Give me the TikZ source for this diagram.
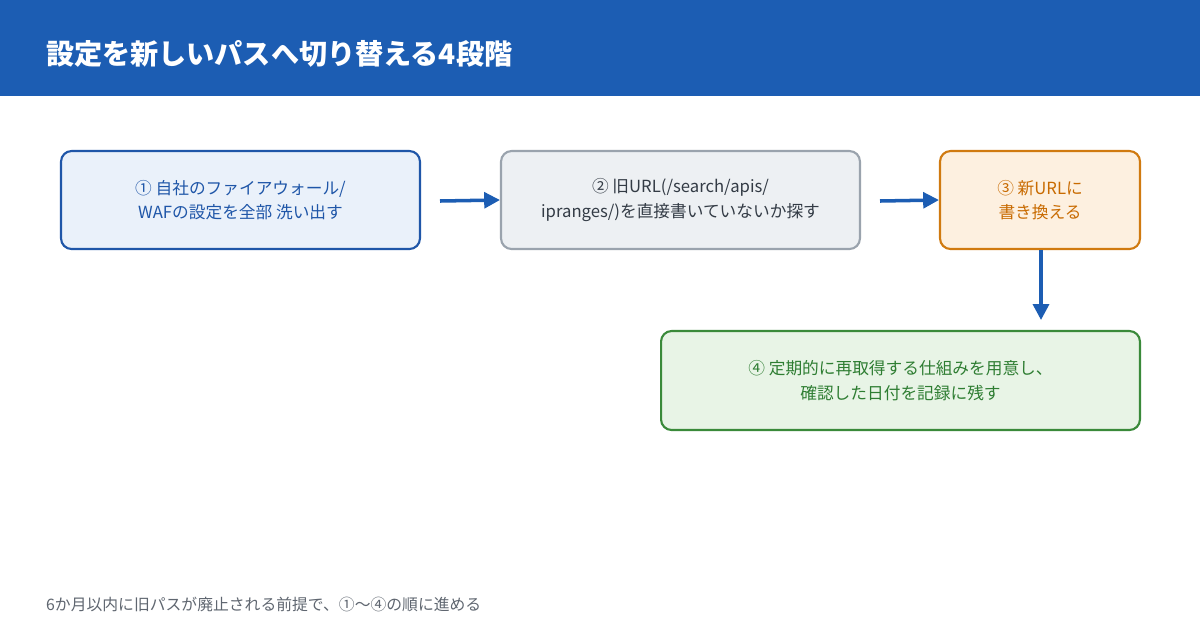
\documentclass[tikz,border=0pt]{standalone}
\usepackage{fontspec}
\setmainfont{Noto Sans CJK JP}
\usetikzlibrary{arrows.meta}
\definecolor{hdrblue}{HTML}{1C5DB3}
\definecolor{bluefill}{HTML}{EAF1FA}
\definecolor{bluetxt}{HTML}{1F56A8}
\definecolor{grayfill}{HTML}{EDF0F3}
\definecolor{graydraw}{HTML}{9AA3AD}
\definecolor{graytxt}{HTML}{333B45}
\definecolor{orfill}{HTML}{FDF0E0}
\definecolor{ordraw}{HTML}{D07A10}
\definecolor{ortxt}{HTML}{C86A00}
\definecolor{grfill}{HTML}{E8F4E6}
\definecolor{grdraw}{HTML}{3A8A3A}
\definecolor{grtxt}{HTML}{2E7D32}
\definecolor{foottxt}{HTML}{5F6670}
\begin{document}
\begin{tikzpicture}[x=0.02cm,y=-0.02cm,
    stage/.style={draw,rounded corners=6pt,line width=1.2pt,align=center,
      font=\fontsize{9.5}{14}\selectfont,inner sep=0pt},
    flow/.style={-{Triangle[length=9pt,width=9pt]},line width=2pt,hdrblue}]
    \useasboundingbox(0,0)rectangle(1200,630);
    \fill[white](0,0)rectangle(1200,630);
    \fill[hdrblue](0,0)rectangle(1200,96);
    \node[anchor=west,white,font=\fontsize{16}{20}\selectfont\bfseries](title)at(40,54){設定を新しいパスへ切り替える4段階};

    \node[stage,fill=bluefill,draw=bluetxt,text=bluetxt,minimum width=7.18cm,minimum height=1.96cm](s1)at(240.5,200){① 自社のファイアウォール/\\WAFの設定を全部 洗い出す};
    \node[stage,fill=grayfill,draw=graydraw,text=graytxt,minimum width=7.18cm,minimum height=1.96cm](s2)at(680.5,200){② 旧URL(/search/apis/\\ipranges/)を直接書いていないか探す};
    \node[stage,fill=orfill,draw=ordraw,text=ortxt,minimum width=4cm,minimum height=1.96cm](s3)at(1040,200){③ 新URLに\\書き換える};
    \node[stage,fill=grfill,draw=grdraw,text=grtxt,minimum width=9.58cm,minimum height=1.98cm](s4)at(900.5,380.5){④ 定期的に再取得する仕組みを用意し、\\確認した日付を記録に残す};

    \coordinate(a1)at(440,201);
    \coordinate(a2)at(880,201);
    \coordinate(a3)at(1041,250);
    \coordinate(a4)at(1041,320);
    \draw[flow](a1)--(s2.west);
    \draw[flow](a2)--(s3.west);
    \draw[flow](a3)--(a4);

    \node[anchor=west,text=foottxt,font=\fontsize{9}{12}\selectfont](foot)at(40,604){6か月以内に旧パスが廃止される前提で、①〜④の順に進める};
\end{tikzpicture}
\end{document}
